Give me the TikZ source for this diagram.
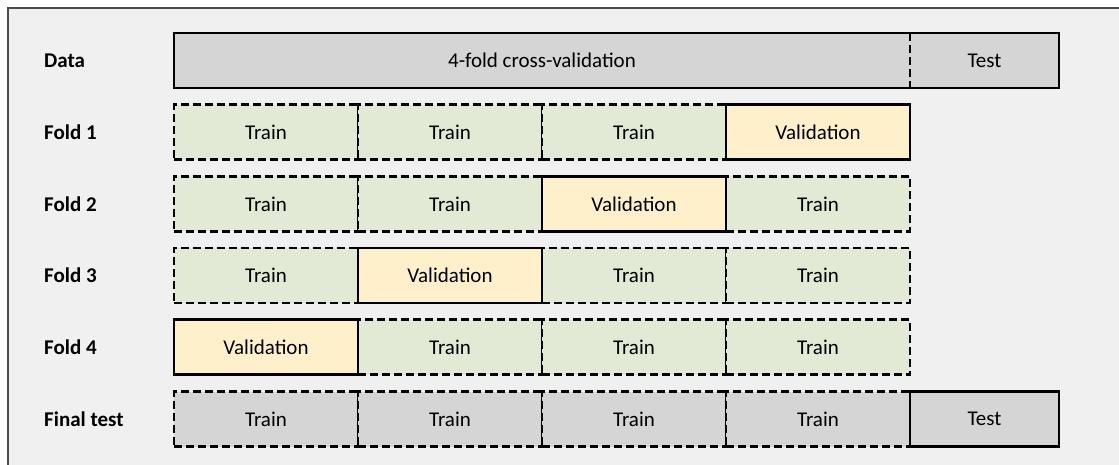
\documentclass[tikz,border=0pt]{standalone}
\usepackage{fontspec}
\setmainfont{Carlito}
\usepackage{tikz}
\usetikzlibrary{positioning}

\definecolor{panelbg}{HTML}{F0F0F0}
\definecolor{framegray}{HTML}{4A4A4A}
\definecolor{cellgray}{HTML}{D5D5D5}
\definecolor{trainfill}{HTML}{E2EAD5}
\definecolor{valfill}{HTML}{FFF0CC}

\begin{document}
\begin{tikzpicture}[x=1pt, y=-1pt, every node/.style={font=\fontsize{21}{25}\selectfont},
        cell/.style={minimum width=184pt, minimum height=55pt, inner sep=0pt, outer sep=0pt, line width=2.7pt},
        train/.style={cell, draw, fill=trainfill, dash pattern=on 8pt off 4pt},
        valbox/.style={cell, draw, fill=valfill},
        grayfill/.style={cell, fill=cellgray},
        graytrain/.style={cell, draw, fill=cellgray, dash pattern=on 8pt off 4pt},
        testbox/.style={cell, draw, fill=cellgray, minimum width=149pt},
        rowlabel/.style={anchor=west, inner sep=0pt, font=\fontsize{21}{25}\selectfont\bfseries}]
        \clip (0,0) rectangle (1119,464);
        \draw[fill=panelbg, draw=framegray, line width=2.6pt] (8,8) rectangle (1140,490);

        % row labels
        \node[rowlabel] (ldata) at (44,60.5) {Data};
        \node[rowlabel] (lf1) at (44,132.2) {Fold 1};
        \node[rowlabel] (lf2) at (44,203.9) {Fold 2};
        \node[rowlabel] (lf3) at (44,275.6) {Fold 3};
        \node[rowlabel] (lf4) at (44,347.3) {Fold 4};
        \node[rowlabel] (lfin) at (44,419) {Final test};

        % whole data set
        \node[grayfill, minimum width=736pt] (cv) at (542,60.5) {4-fold cross-validation};
        \node[grayfill, minimum width=149pt, right=0pt of cv] (dtest) {Test};
        \draw[line width=2.7pt] (cv.north west) rectangle (dtest.south east);
        \draw[line width=2.7pt, dash pattern=on 8pt off 4pt] (cv.north east) -- (cv.south east);

        % fold 1
        \node[train] (f1c1) at (266,132.2) {Train};
        \node[train, right=0pt of f1c1] (f1c2) {Train};
        \node[train, right=0pt of f1c2] (f1c3) {Train};
        \node[valbox, right=0pt of f1c3] (f1c4) {Validation};

        % fold 2
        \node[train] (f2c1) at (266,203.9) {Train};
        \node[train, right=0pt of f2c1] (f2c2) {Train};
        \node[train] (f2c4) at (818,203.9) {Train};
        \node[valbox, right=0pt of f2c2] (f2c3) {Validation};

        % fold 3
        \node[train] (f3c1) at (266,275.6) {Train};
        \node[train] (f3c3) at (634,275.6) {Train};
        \node[train, right=0pt of f3c3] (f3c4) {Train};
        \node[valbox, right=0pt of f3c1] (f3c2) {Validation};

        % fold 4
        \node[train] (f4c2) at (450,347.3) {Train};
        \node[train, right=0pt of f4c2] (f4c3) {Train};
        \node[train, right=0pt of f4c3] (f4c4) {Train};
        \node[valbox, left=0pt of f4c2] (f4c1) {Validation};

        % final test
        \node[graytrain] (fc1) at (266,419) {Train};
        \node[graytrain, right=0pt of fc1] (fc2) {Train};
        \node[graytrain, right=0pt of fc2] (fc3) {Train};
        \node[graytrain, right=0pt of fc3] (fc4) {Train};
        \node[testbox, right=0pt of fc4] (ftest) {Test};
      \end{tikzpicture}
\end{document}
